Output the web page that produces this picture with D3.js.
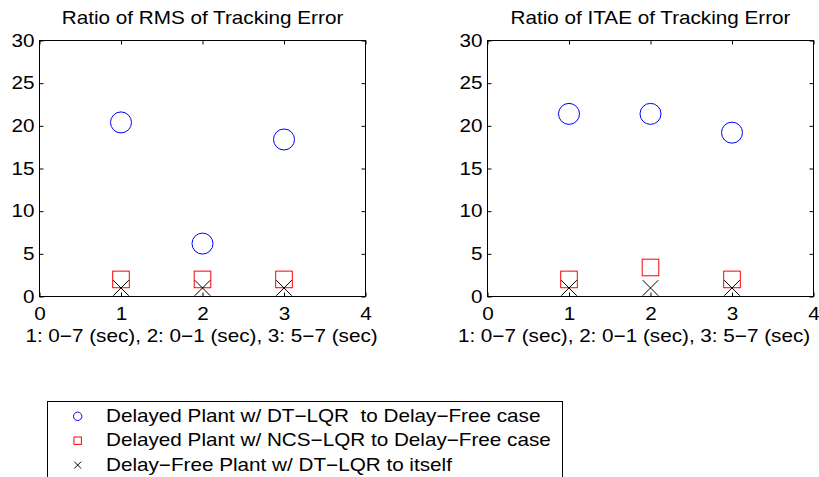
<!DOCTYPE html>
<html>
<head>
<meta charset="utf-8">
<script src="https://cdn.jsdelivr.net/npm/d3@7"></script>
<style>
  body { margin: 0; background: #fff; }
  svg text { font-family: "Liberation Sans", Arial, Helvetica, sans-serif; fill: #000; white-space: pre; }
</style>
</head>
<body>
<svg id="chart" width="819" height="477"></svg>
<script>
// Test cases on the x axis and the ratios measured for each one
const categories = [1, 2, 3];
const xTicks = [0, 1, 2, 3, 4];
const yTicks = [0, 5, 10, 15, 20, 25, 30];
const xLabel = "1: 0\u22127 (sec), 2: 0\u22121 (sec), 3: 5\u22127 (sec)";

const rmsDelayedDT = [20.4, 6.2, 18.4];
const rmsDelayedNCS = [2.0, 2.0, 2.0];
const rmsDelayFree = [1.0, 1.0, 1.0];

const itaeDelayedDT = [21.4, 21.4, 19.2];
const itaeDelayedNCS = [2.0, 3.4, 2.0];
const itaeDelayFree = [1.0, 1.0, 1.0];

const panelTitles = ["Ratio of RMS of Tracking Error", "Ratio of ITAE of Tracking Error"];
const legendLabels = [
  "Delayed Plant w/ DT\u2212LQR  to Delay\u2212Free case",
  "Delayed Plant w/ NCS\u2212LQR to Delay\u2212Free case",
  "Delay\u2212Free Plant w/ DT\u2212LQR to itself"
];

const svg = d3.select("#chart");
const FONT = 18;      // text size
const SX = 1.15;      // horizontal widening of the glyphs
const BLUE = "#0000ff", RED = "#ff0000";

// the right panel's x label is nudged left so it stays inside the figure
const panels = [
  { title: panelTitles[0], left: 39.5, labelX: 201.5, series: [rmsDelayedDT, rmsDelayedNCS, rmsDelayFree] },
  { title: panelTitles[1], left: 487.5, labelX: 634, series: [itaeDelayedDT, itaeDelayedNCS, itaeDelayFree] }
];
const plotW = 326, plotTop = 40.5, plotBottom = 296.5;

function wideText(g, x, y, str, anchor) {
  return g.append("text")
    .attr("transform", `translate(${x},${y}) scale(${SX},1)`)
    .attr("text-anchor", anchor || "middle")
    .attr("font-size", FONT)
    .text(str);
}

function drawMarker(g, kind, cx, cy, s) {
  if (kind === 0) {
    g.append("circle").attr("cx", cx).attr("cy", cy).attr("r", s)
      .attr("fill", "none").attr("stroke", BLUE).attr("stroke-width", 1);
  } else if (kind === 1) {
    g.append("rect").attr("x", cx - s).attr("y", cy - s)
      .attr("width", 2 * s).attr("height", 2 * s)
      .attr("fill", "none").attr("stroke", RED).attr("stroke-width", 1);
  } else {
    g.append("path")
      .attr("d", `M${cx - s},${cy - s}L${cx + s},${cy + s}M${cx - s},${cy + s}L${cx + s},${cy - s}`)
      .attr("fill", "none").attr("stroke", "#000").attr("stroke-width", 1);
  }
}

panels.forEach(p => {
  const x = d3.scaleLinear().domain([0, 4]).range([p.left, p.left + plotW]);
  const y = d3.scaleLinear().domain([0, 30]).range([plotBottom, plotTop]);
  const g = svg.append("g");

  // axes with inward ticks on all four sides
  const styleAxis = sel => {
    sel.select(".domain").remove();
    sel.attr("font-size", FONT).attr("font-family", null);
    sel.selectAll("line").attr("stroke", "#000");
  };
  const gx = g.append("g").attr("transform", `translate(0,${plotBottom})`)
    .call(d3.axisBottom(x).tickValues(xTicks).tickSize(-4).tickPadding(11).tickFormat(d3.format("d")))
    .call(styleAxis);
  gx.selectAll("text").attr("transform", `scale(${SX},1)`);

  const gy = g.append("g").attr("transform", `translate(${p.left},0)`)
    .call(d3.axisLeft(y).tickValues(yTicks).tickSize(-4).tickPadding(5).tickFormat(d3.format("d")))
    .call(styleAxis);
  gy.selectAll("text").attr("x", -5 / SX).attr("transform", `scale(${SX},1)`);

  g.append("g").attr("transform", `translate(0,${plotTop})`)
    .call(d3.axisTop(x).tickValues(xTicks).tickSize(-4).tickFormat(""))
    .call(styleAxis);
  g.append("g").attr("transform", `translate(${p.left + plotW},0)`)
    .call(d3.axisRight(y).tickValues(yTicks).tickSize(-4).tickFormat(""))
    .call(styleAxis);

  g.append("rect")
    .attr("x", x(0)).attr("y", y(30))
    .attr("width", x(4) - x(0)).attr("height", y(0) - y(30))
    .attr("fill", "none").attr("stroke", "#000").attr("stroke-width", 1);

  // title and x-axis label
  wideText(g, (x(0) + x(4)) / 2, 24, p.title);
  wideText(g, p.labelX, 342, xLabel);

  // markers
  const sizes = [10.5, 8.3, 7.8];
  p.series.forEach((vals, k) => {
    vals.forEach((v, i) => drawMarker(g, k, x(categories[i]), y(v), sizes[k]));
  });
});

// legend
const lg = svg.append("g");
lg.append("rect").attr("x", 47.5).attr("y", 401.5).attr("width", 515).attr("height", 80)
  .attr("fill", "#fff").attr("stroke", "#000").attr("stroke-width", 1);
const legendSizes = [4.2, 3.7, 3.4];
legendLabels.forEach((lab, k) => {
  const cy = 416.3 + k * 24.4;
  drawMarker(lg, k, 77.7, cy, legendSizes[k]);
  wideText(lg, 106, cy + 5.6, lab, "start");
});
</script>
</body>
</html>
